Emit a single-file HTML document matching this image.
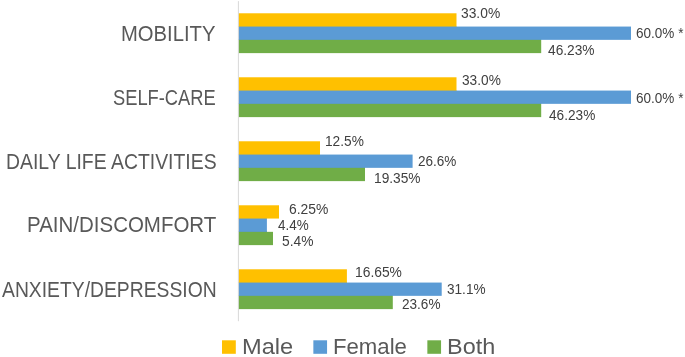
<!DOCTYPE html>
<html><head><meta charset="utf-8"><title>Chart</title><style>
*{margin:0;padding:0;box-sizing:border-box}
html,body{width:685px;height:357px;background:#fff;overflow:hidden}
body{position:relative;font-family:"Liberation Sans",sans-serif}
.t{position:absolute;line-height:1;white-space:pre;transform-origin:0 0;filter:grayscale(1)}
.b{position:absolute}

</style></head><body>
<svg width="685" height="357" viewBox="0 0 685 357" style="position:absolute;left:0;top:0"><rect x="237.9" y="1.1" width="1.0" height="320.1" fill="#D9D9D9"/><rect x="238.90" y="26" width="217.60" height="1" fill="#FFC000"/><rect x="238.90" y="39" width="302.30" height="1" fill="#5B9BD5"/><rect x="238.90" y="13.28" width="217.60" height="13.28" fill="#FFC000"/><rect x="238.90" y="26.56" width="392.10" height="13.28" fill="#5B9BD5"/><rect x="238.90" y="39.84" width="302.30" height="13.28" fill="#70AD47"/><rect x="238.90" y="90" width="217.60" height="1" fill="#FFC000"/><rect x="238.90" y="103" width="302.30" height="1" fill="#5B9BD5"/><rect x="238.90" y="77.28" width="217.60" height="13.28" fill="#FFC000"/><rect x="238.90" y="90.56" width="392.10" height="13.28" fill="#5B9BD5"/><rect x="238.90" y="103.84" width="302.30" height="13.28" fill="#70AD47"/><rect x="238.90" y="154" width="81.10" height="1" fill="#FFC000"/><rect x="238.90" y="167" width="126.10" height="1" fill="#5B9BD5"/><rect x="238.90" y="141.28" width="81.10" height="13.28" fill="#FFC000"/><rect x="238.90" y="154.56" width="173.70" height="13.28" fill="#5B9BD5"/><rect x="238.90" y="167.84" width="126.10" height="13.28" fill="#70AD47"/><rect x="238.90" y="218" width="28.00" height="1" fill="#FFC000"/><rect x="238.90" y="231" width="28.00" height="1" fill="#5B9BD5"/><rect x="238.90" y="205.28" width="40.10" height="13.28" fill="#FFC000"/><rect x="238.90" y="218.56" width="28.00" height="13.28" fill="#5B9BD5"/><rect x="238.90" y="231.84" width="34.10" height="13.28" fill="#70AD47"/><rect x="238.90" y="282" width="108.00" height="1" fill="#FFC000"/><rect x="238.90" y="295" width="153.90" height="1" fill="#5B9BD5"/><rect x="238.90" y="269.28" width="108.00" height="13.28" fill="#FFC000"/><rect x="238.90" y="282.56" width="202.80" height="13.28" fill="#5B9BD5"/><rect x="238.90" y="295.84" width="153.90" height="13.28" fill="#70AD47"/><rect x="222.00" y="340.3" width="13.80" height="13.5" fill="#FFC000"/><rect x="313.35" y="340.3" width="13.71" height="13.5" fill="#5B9BD5"/><rect x="427.35" y="340.3" width="13.71" height="13.5" fill="#70AD47"/></svg>
<div class="t" style="left:121.30px;top:23.55px;font-size:21.5px;color:#595959;transform:scaleX(0.9410)">MOBILITY</div>
<div class="t" style="left:113.06px;top:88.00px;font-size:21.5px;color:#595959;transform:scaleX(0.8512)">SELF-CARE</div>
<div class="t" style="left:6.44px;top:151.69px;font-size:21.5px;color:#595959;transform:scaleX(0.9024)">DAILY LIFE ACTIVITIES</div>
<div class="t" style="left:26.85px;top:215.43px;font-size:21.5px;color:#595959;transform:scaleX(0.9528)">PAIN/DISCOMFORT</div>
<div class="t" style="left:1.78px;top:279.68px;font-size:21.5px;color:#595959;transform:scaleX(0.8985)">ANXIETY/DEPRESSION</div>
<div class="t" style="left:461.44px;top:5.76px;font-size:14.0px;color:#404040;transform:scaleX(0.9867)">33.0%</div>
<div class="t" style="left:636.48px;top:25.79px;font-size:14.0px;color:#404040;transform:scaleX(0.9668)">60.0% *</div>
<div class="t" style="left:548.04px;top:43.21px;font-size:14.0px;color:#404040;transform:scaleX(0.9803)">46.23%</div>
<div class="t" style="left:462.45px;top:73.44px;font-size:14.0px;color:#404040;transform:scaleX(0.9778)">33.0%</div>
<div class="t" style="left:636.48px;top:90.57px;font-size:14.0px;color:#404040;transform:scaleX(0.9668)">60.0% *</div>
<div class="t" style="left:549.06px;top:108.22px;font-size:14.0px;color:#404040;transform:scaleX(0.9743)">46.23%</div>
<div class="t" style="left:324.90px;top:134.43px;font-size:14.0px;color:#404040;transform:scaleX(0.9778)">12.5%</div>
<div class="t" style="left:417.96px;top:153.84px;font-size:14.0px;color:#404040;transform:scaleX(0.9679)">26.6%</div>
<div class="t" style="left:373.63px;top:170.64px;font-size:14.0px;color:#404040;transform:scaleX(0.9799)">19.35%</div>
<div class="t" style="left:288.84px;top:202.17px;font-size:14.0px;color:#404040;transform:scaleX(0.9910)">6.25%</div>
<div class="t" style="left:277.61px;top:217.57px;font-size:14.0px;color:#404040;transform:scaleX(0.9602)">4.4%</div>
<div class="t" style="left:282.22px;top:233.87px;font-size:14.0px;color:#404040;transform:scaleX(0.9846)">5.4%</div>
<div class="t" style="left:355.24px;top:264.81px;font-size:14.0px;color:#404040;transform:scaleX(0.9879)">16.65%</div>
<div class="t" style="left:447.30px;top:282.29px;font-size:14.0px;color:#404040;transform:scaleX(0.9704)">31.1%</div>
<div class="t" style="left:402.49px;top:297.38px;font-size:14.0px;color:#404040;transform:scaleX(0.9687)">23.6%</div>
<div class="t" style="left:241.72px;top:336.24px;font-size:22.0px;color:#595959;transform:scaleX(1.0742)">Male</div>
<div class="t" style="left:333.10px;top:336.24px;font-size:22.0px;color:#595959;transform:scaleX(1.0077)">Female</div>
<div class="t" style="left:447.40px;top:336.34px;font-size:22.0px;color:#595959;transform:scaleX(1.0649)">Both</div>
</body></html>
